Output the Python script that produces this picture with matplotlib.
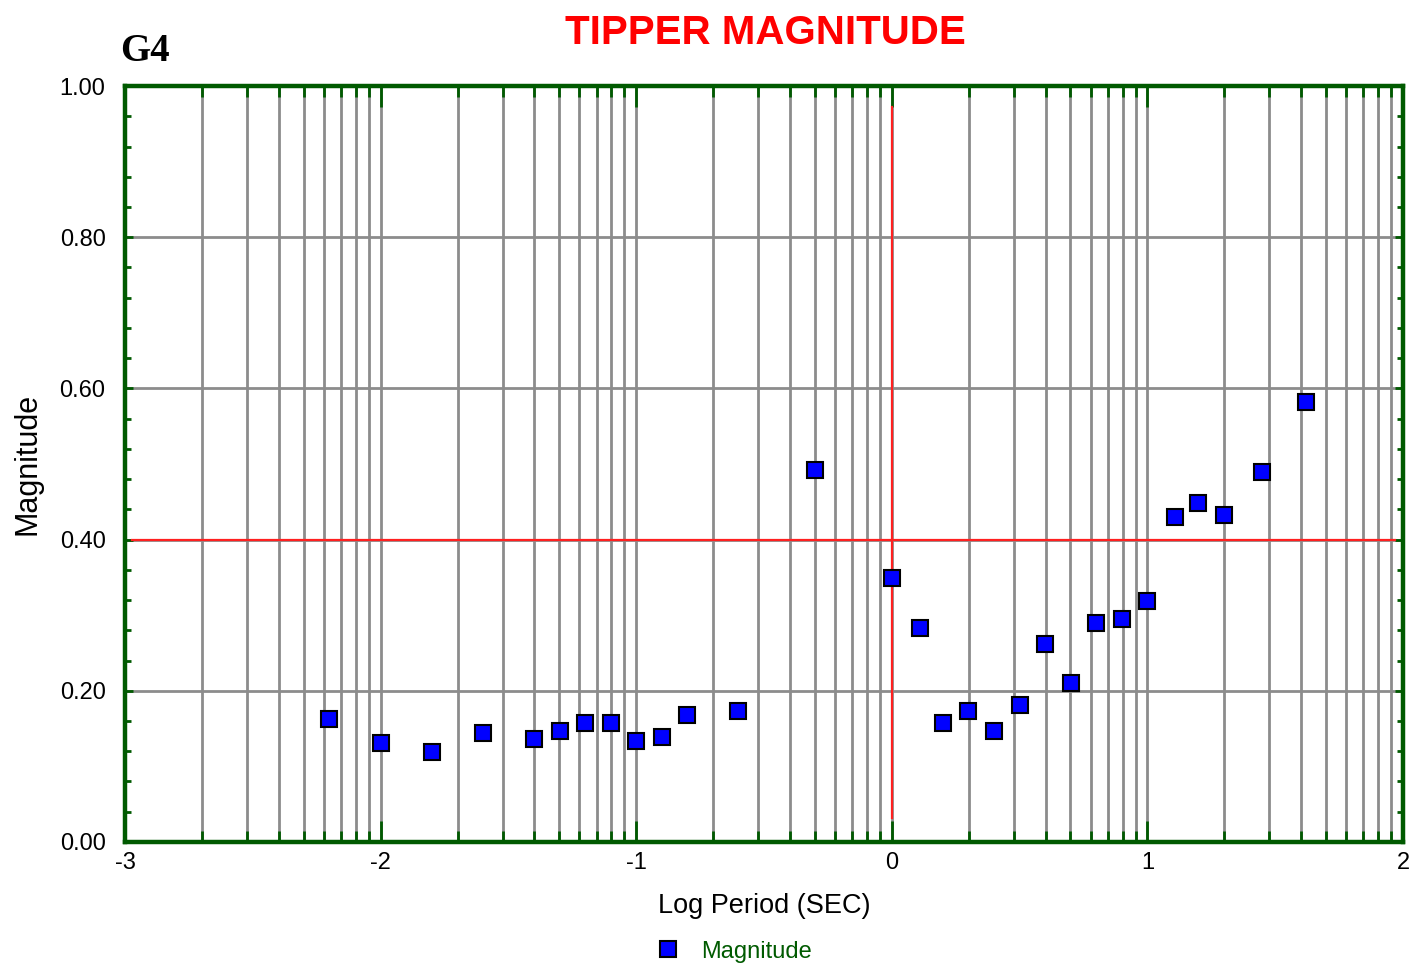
import numpy as np
from matplotlib import pyplot as plt
from matplotlib.ticker import FixedLocator, MultipleLocator, FormatStrFormatter
from matplotlib.lines import Line2D

plt.rcParams['font.family'] = ['Liberation Sans', 'DejaVu Sans']
plt.rcParams['axes.unicode_minus'] = False

# log period (sec) and tipper magnitude
log_period = [-2.2, -2.0, -1.8, -1.6, -1.4, -1.3, -1.2, -1.1, -1.0, -0.9, -0.8, -0.6,
              -0.3, 0.0, 0.11, 0.2, 0.3, 0.4, 0.5, 0.6, 0.7, 0.8, 0.9, 1.0,
              1.11, 1.2, 1.3, 1.45, 1.62]
magnitude = [0.163, 0.131, 0.119, 0.144, 0.136, 0.147, 0.157, 0.157, 0.134, 0.139, 0.168, 0.173,
             0.492, 0.349, 0.283, 0.157, 0.173, 0.147, 0.181, 0.262, 0.210, 0.290, 0.295, 0.319,
             0.430, 0.448, 0.433, 0.489, 0.582]

station = 'G4'
title = 'TIPPER MAGNITUDE'

green = '#005a00'
grid_gray = '#8c8c8c'

fig = plt.figure(figsize=(14.14, 9.67), dpi=100)
ax = fig.add_axes([0.0884, 0.1293, 0.9038, 0.7817])

ax.set_xlim(-3, 2)
ax.set_ylim(0, 1)

# log-spaced vertical grid in each decade
decades = np.arange(-3, 2)
minor_x = [d + np.log10(k) for d in decades for k in range(2, 10)]
ax.xaxis.set_major_locator(FixedLocator(np.arange(-3, 3)))
ax.xaxis.set_minor_locator(FixedLocator(minor_x))
ax.yaxis.set_major_locator(MultipleLocator(0.2))
ax.yaxis.set_minor_locator(MultipleLocator(0.04))
ax.yaxis.set_major_formatter(FormatStrFormatter('%.2f'))

ax.set_axisbelow(True)
ax.grid(True, which='major', axis='both', color=grid_gray, lw=2)
ax.grid(True, which='minor', axis='x', color=grid_gray, lw=2)

ax.axvline(0, ymin=0.032, ymax=0.972, color='#ff2020', lw=1.6, zorder=1)
ax.axhline(0.4, xmin=0.0055, xmax=0.994, color='#ff2020', lw=1.6, zorder=1)

ax.plot(log_period, magnitude, 's', ms=11, mfc='#0000ff', mec='black', mew=1.5,
        ls='none', zorder=3, clip_on=False)

for s in ax.spines.values():
    s.set_color(green)
    s.set_linewidth(3.2)

ax.tick_params(axis='x', which='major', direction='in', length=15, width=2,
               color=green, top=True, bottom=True, labelsize=17, pad=7)
ax.tick_params(axis='x', which='minor', direction='in', length=8, width=2,
               color=green, top=True, bottom=True)
ax.tick_params(axis='y', which='major', direction='in', length=6, width=2,
               color=green, left=True, right=True, labelsize=17, pad=14)
ax.tick_params(axis='y', which='minor', direction='in', length=4, width=2,
               color=green, left=True, right=True)

ax.set_xlabel('Log Period (SEC)', fontsize=19.5, labelpad=14)
ax.set_ylabel('Magnitude', fontsize=22, labelpad=12)

fig.text(0.541, 0.966, title, color='#ff0000', fontsize=29, fontweight='bold',
         ha='center', va='center')
fig.text(0.085, 0.947, station, fontsize=28, fontweight='bold',
         family='Liberation Serif', ha='left', va='center')

handle = Line2D([], [], marker='s', ls='none', ms=11, mfc='#0000ff', mec='black', mew=1.5)
leg = fig.legend([handle], ['Magnitude'], loc='center', bbox_to_anchor=(0.515, 0.016),
                 frameon=False, fontsize=17, handletextpad=0.4)
for t in leg.get_texts():
    t.set_color(green)

fig.savefig('out.png', dpi=100)
